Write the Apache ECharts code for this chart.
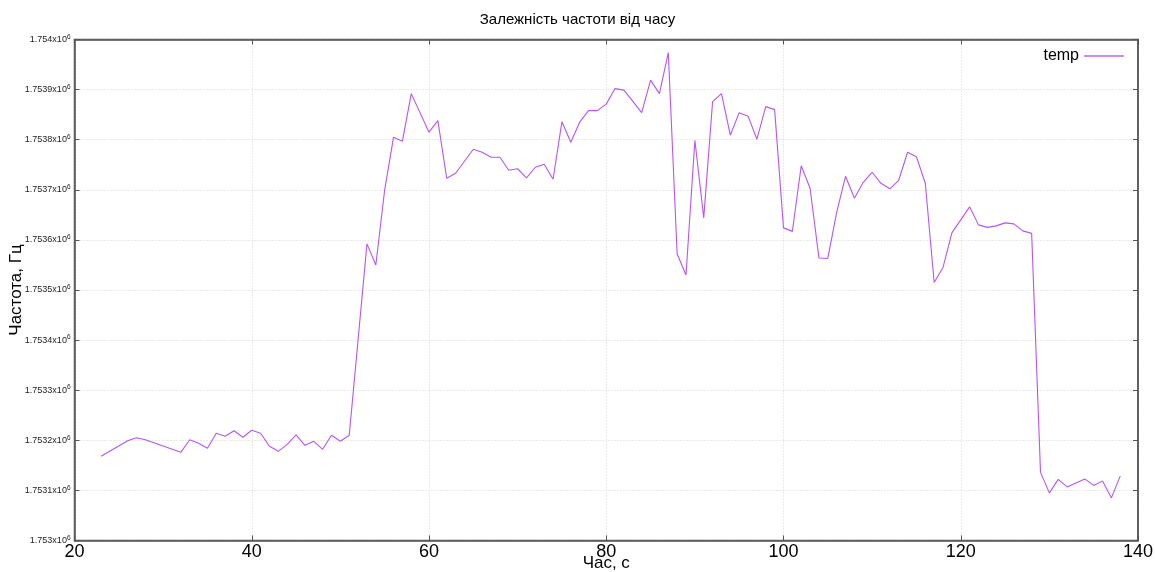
<!DOCTYPE html>
<html>
<head>
<meta charset="utf-8">
<script src="https://cdn.jsdelivr.net/npm/echarts@6/dist/echarts.min.js"></script>
<style>
  html, body { margin: 0; padding: 0; background: #fff; }
  #chart { width: 1155px; height: 572px; }
</style>
</head>
<body>
<div id="chart"></div>
<script>
// Measurement time, s
const timeSec = [
  23, 26, 27, 28, 32, 33, 34, 35, 36, 37, 38, 39, 40, 41, 42, 43, 44, 45, 46, 47,
  48, 49, 50, 51, 53, 54, 55, 56, 57, 58, 60, 61, 62, 63, 65, 66, 67, 68, 69, 70,
  71, 72, 73, 74, 75, 76, 77, 78, 79, 80, 81, 82, 84, 85, 86, 87, 88, 89, 90, 91,
  92, 93, 94, 95, 96, 97, 98, 99, 100, 101, 102, 103, 104, 105, 106, 107, 108, 109, 110, 111,
  112, 113, 114, 115, 116, 117, 118, 119, 120, 121, 122, 123, 124, 125, 126, 127, 128, 129, 130, 131,
  132, 133, 134, 135, 136, 137, 138
];

// Measured frequency, Hz
const freqHz = [
  1753168, 1753199, 1753205, 1753201, 1753176, 1753201, 1753194, 1753184, 1753214, 1753208,
  1753219, 1753206, 1753220, 1753214, 1753188, 1753178, 1753192, 1753211, 1753190, 1753198,
  1753182, 1753210, 1753198, 1753210, 1753592, 1753550, 1753700, 1753805, 1753797, 1753892,
  1753815, 1753838, 1753723, 1753733, 1753781, 1753775, 1753765, 1753765, 1753739, 1753742,
  1753724, 1753745, 1753751, 1753721, 1753836, 1753795, 1753835, 1753858, 1753858, 1753871,
  1753902, 1753899, 1753854, 1753919, 1753892, 1753974, 1753572, 1753530, 1753799, 1753644,
  1753876, 1753892, 1753809, 1753854, 1753847, 1753801, 1753866, 1753860, 1753624, 1753617,
  1753748, 1753703, 1753564, 1753563, 1753655, 1753727, 1753683, 1753715, 1753735, 1753713,
  1753702, 1753719, 1753775, 1753766, 1753713, 1753515, 1753545, 1753614, 1753640, 1753666,
  1753630, 1753625, 1753628, 1753634, 1753632, 1753618, 1753613, 1753136, 1753095, 1753122,
  1753107, 1753115, 1753123, 1753110, 1753119, 1753085, 1753129
];

const seriesName = 'temp';
const titleText = 'Залежність частоти від часу';
const xAxisTitle = 'Час, с';
const yAxisTitle = 'Частота, Гц';

const xRange = { min: 20, max: 140, interval: 20 };
const yRange = { min: 1753000, max: 1754000, interval: 100 };

const points = timeSec.map((t, i) => [t, freqHz[i]]);

// 1.7532x10^6 style labels with a raised exponent
function sciLabel(v) {
  let m = (v / 1e6).toFixed(4).replace(/0+$/, '').replace(/\.$/, '');
  return '{m|' + m + 'x10}{e|6}';
}

const fontFamily = '"Liberation Sans", Arial, sans-serif';
const axisColor = '#555';
const gridLine = { show: true, lineStyle: { color: '#d4d4d4', width: 1, type: [1, 2] } };

const chart = echarts.init(document.getElementById('chart'), null, { renderer: 'canvas' });
chart.setOption({
  animation: false,
  backgroundColor: '#fff',
  textStyle: { fontFamily: fontFamily },
  title: {
    text: titleText,
    left: 'center',
    top: 7,
    textStyle: { fontSize: 15, fontWeight: 'normal', color: '#000', fontFamily: fontFamily }
  },
  legend: {
    data: [seriesName],
    right: 26,
    top: 43,
    align: 'right',
    itemWidth: 40,
    itemHeight: 2,
    itemGap: 8,
    icon: 'rect',
    textStyle: { fontSize: 16, color: '#000', fontFamily: fontFamily }
  },
  grid: {
    left: 74.5,
    right: 17,
    top: 39.5,
    bottom: 31.5,
    show: true,
    borderColor: axisColor,
    borderWidth: 1.5,
    containLabel: false,
    outerBoundsMode: 'none'
  },
  xAxis: [
    {
      type: 'value',
      min: xRange.min, max: xRange.max, interval: xRange.interval,
      name: xAxisTitle,
      nameLocation: 'middle',
      nameGap: 14,
      nameMoveOverlap: false,
      nameTextStyle: { fontSize: 17, color: '#000', fontFamily: fontFamily },
      axisLine: { show: true, onZero: false, lineStyle: { color: axisColor, width: 1.5 } },
      axisTick: { show: true, inside: true, length: 5, lineStyle: { color: axisColor } },
      axisLabel: { fontSize: 18, color: '#000', margin: 3, showMaxLabel: true },
      splitLine: gridLine
    },
    {
      type: 'value', position: 'top',
      min: xRange.min, max: xRange.max, interval: xRange.interval,
      axisLine: { show: true, lineStyle: { color: axisColor, width: 1.5 } },
      axisTick: { show: true, inside: true, length: 5, lineStyle: { color: axisColor } },
      axisLabel: { show: false },
      splitLine: { show: false }
    }
  ],
  yAxis: [
    {
      type: 'value',
      min: yRange.min, max: yRange.max, interval: yRange.interval,
      name: yAxisTitle,
      nameLocation: 'middle',
      nameGap: 50,
      nameRotate: 90,
      nameMoveOverlap: false,
      nameTextStyle: { fontSize: 17, color: '#000', fontFamily: fontFamily },
      axisLine: { show: true, onZero: false, lineStyle: { color: axisColor, width: 1.5 } },
      axisTick: { show: true, inside: true, length: 5, lineStyle: { color: axisColor } },
      axisLabel: {
        formatter: sciLabel,
        margin: 4,
        rich: {
          m: { fontSize: 9, color: '#222', fontFamily: fontFamily },
          e: { fontSize: 6.5, color: '#222', fontFamily: fontFamily, padding: [0, 0, 5, 0] }
        }
      },
      splitLine: gridLine
    },
    {
      type: 'value', position: 'right',
      min: yRange.min, max: yRange.max, interval: yRange.interval,
      axisLine: { show: true, lineStyle: { color: axisColor, width: 1.5 } },
      axisTick: { show: true, inside: true, length: 5, lineStyle: { color: axisColor } },
      axisLabel: { show: false },
      splitLine: { show: false }
    }
  ],
  series: [
    {
      name: seriesName,
      type: 'line',
      data: points,
      xAxisIndex: 0,
      yAxisIndex: 0,
      showSymbol: false,
      symbol: 'none',
      lineStyle: { color: '#b655f7', width: 1.1 },
      itemStyle: { color: '#c890f0' }
    }
  ]
});
</script>
</body>
</html>
